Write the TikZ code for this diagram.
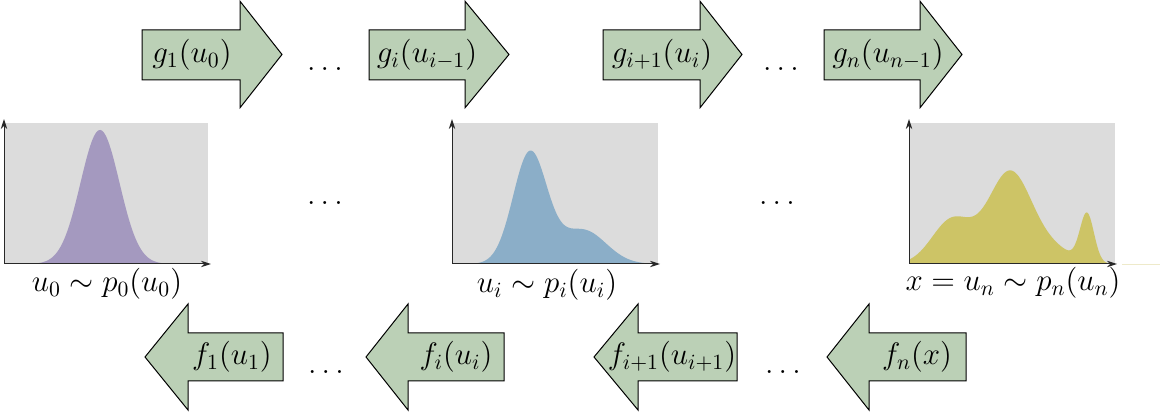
\RequirePackage{fix-cm}
\documentclass[tikz,border=0pt]{standalone}
\usetikzlibrary{arrows.meta}
\definecolor{arrowgreen}{RGB}{187,208,182}
\definecolor{plotgray}{RGB}{220,220,220}
\definecolor{distpurple}{RGB}{164,153,191}
\definecolor{distblue}{RGB}{139,174,200}
\definecolor{distyellow}{RGB}{205,196,102}
\definecolor{axisgray}{RGB}{40,40,40}
\tikzset{
  flowarrow/.style={draw=black, fill=arrowgreen, line width=0.5pt, line join=miter},
  lbl/.style={inner sep=0pt, font=\fontsize{15.5}{18}\selectfont},
  axisline/.style={draw=axisgray, line width=0.5pt, -{Stealth[length=5pt,width=3.2pt]}},
  bgbox/.style={fill=plotgray},
}
\newcommand\RArrowShape[3]{%
  \draw[flowarrow] (#1,30) -- (#2,30) -- (#2,1.2) -- (#3,54.5) -- (#2,107.8) -- (#2,80) -- (#1,80) -- cycle;}
\newcommand\LArrowShape[3]{%
  \draw[flowarrow] (#3,333) -- (#2,333) -- (#2,304) -- (#1,357) -- (#2,410) -- (#2,381) -- (#3,381) -- cycle;}
\begin{document}
\begin{tikzpicture}[x=0.5pt,y=-0.5pt]
\useasboundingbox (0,0) rectangle (1160,415);

% ---------- top arrows (g) ----------
\RArrowShape{142}{240}{282}
\node[lbl] (g1) at (192,55) {$g_1(u_0)$};
\node[lbl] (dt1) at (325,69) {$\dots$};
\RArrowShape{369}{465}{509}
\node[lbl] (gi) at (427,55) {$g_i(u_{i-1})$};
\RArrowShape{603}{700}{742}
\node[lbl] (gi1) at (662,55) {$g_{i+1}(u_i)$};
\node[lbl] (dt2) at (781,69) {$\dots$};
\RArrowShape{824}{920}{962}
\node[lbl] (gn) at (888,55) {$g_n(u_{n-1})$};

% ---------- plot 1 ----------
\fill[bgbox] (4,123) rectangle (208,264);
\fill[distpurple] (4,264) -- plot[domain=4:208, samples=160] (\x,{264-134*exp(-0.5*((\x-100)/19.5)^2)}) -- (208,264) -- cycle;
\coordinate (o1) at (4,264);
\coordinate (y1) at (4,119);
\coordinate (x1) at (211,264);
\draw[axisline] (o1) -- (y1);
\draw[axisline] (o1) -- (x1);
\node[lbl] (l1) at (107,284) {$u_0 \sim p_0(u_0)$};

\node[lbl] (dm1) at (325,203) {$\dots$};

% ---------- plot 2 ----------
\fill[bgbox] (452,123) rectangle (658,264);
\fill[distblue] (452,264) -- plot[domain=452:658, samples=180] (\x,{264-111*exp(-0.5*((\x-530)/17)^2)-34*exp(-0.5*((\x-583)/23)^2)}) -- (658,264) -- cycle;
\coordinate (o2) at (452,264);
\coordinate (y2) at (452,119);
\coordinate (x2) at (660,264);
\draw[axisline] (o2) -- (y2);
\draw[axisline] (o2) -- (x2);
\node[lbl] (l2) at (547,285) {$u_i \sim p_i(u_i)$};

\node[lbl] (dm2) at (777,203) {$\dots$};

% ---------- plot 3 ----------
\fill[bgbox] (909,123) rectangle (1115,264);
\fill[distyellow] (909,264) -- plot[domain=909:1115, samples=220] (\x,{264-44*exp(-0.5*((\x-952)/20)^2)-92*exp(-0.5*((\x-1010)/22)^2)-12*exp(-0.5*((\x-1055)/20)^2)-48*exp(-0.5*((\x-1087)/7)^2)}) -- (1115,264) -- cycle;
\coordinate (o3) at (909,264);
\coordinate (y3) at (909,119);
\coordinate (x3) at (1117,264);
\coordinate (fa) at (1122,265);
\coordinate (fb) at (1160,265);
\draw[distyellow, opacity=0.35, line width=0.5pt] (fa) -- (fb);
\draw[axisline] (o3) -- (y3);
\draw[axisline] (o3) -- (x3);
\node[lbl] (l3) at (1013,283) {$x = u_n \sim p_n(u_n)$};

% ---------- bottom arrows (f) ----------
\LArrowShape{145}{188}{283}
\node[lbl] (f1) at (232,357) {$f_1(u_1)$};
\node[lbl] (db1) at (326,372) {$\dots$};
\LArrowShape{366}{408}{504}
\node[lbl] (fi) at (456,357) {$f_i(u_i)$};
\LArrowShape{594}{638}{737}
\node[lbl] (fi1) at (672,357) {$f_{i+1}(u_{i+1})$};
\node[lbl] (db2) at (783,372) {$\dots$};
\LArrowShape{827}{869}{966}
\node[lbl] (fn) at (917,357) {$f_n(x)$};
\end{tikzpicture}
\end{document}
